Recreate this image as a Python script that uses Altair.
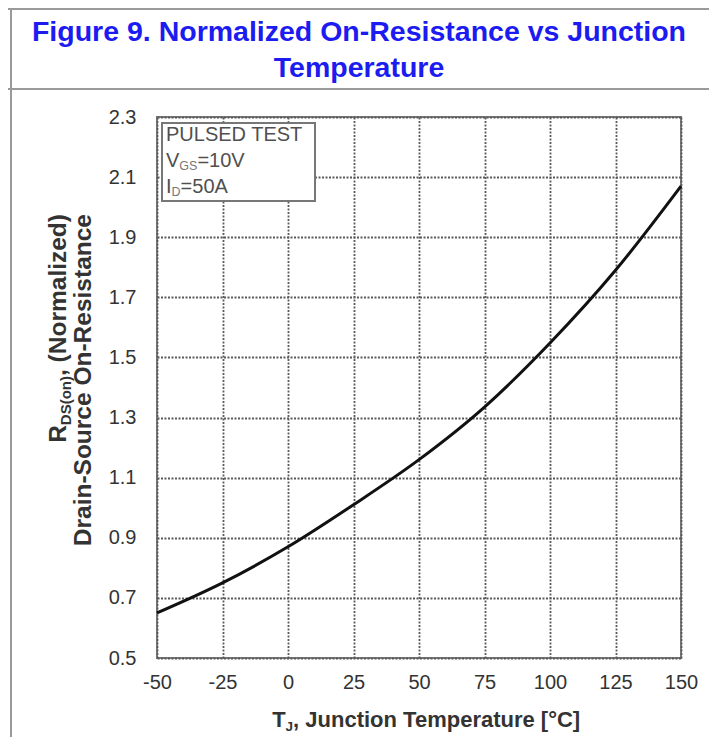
import altair as alt
import pandas as pd

# ---------------- data ----------------
temps = [-50, -25, 0, 25, 50, 75, 100, 125, 150]
rdson = [0.65, 0.75, 0.87, 1.01, 1.16, 1.335, 1.548, 1.79, 2.07]
x_ticks = [-50, -25, 0, 25, 50, 75, 100, 125, 150]
y_ticks = [0.5, 0.7, 0.9, 1.1, 1.3, 1.5, 1.7, 1.9, 2.1, 2.3]
title_lines = ["Figure 9. Normalized On-Resistance vs Junction", "Temperature"]
legend_line1 = "PULSED TEST"
legend_v = ["V", "GS", "=10V"]
legend_i = ["I", "D", "=50A"]
ytitle_1 = ["R", "DS(on)", ", (Normalized)"]
ytitle_2 = "Drain-Source On-Resistance"
xtitle = ["T", "J", ", Junction Temperature [°C]"]

# ---------------- layout ----------------
W, H = 524, 541
OX, OY = 157, 117          # screen position of the plot origin
FONT = "Liberation Sans"
TXT = "#333333"

# Arial / Liberation Sans advance widths (1/1000 em)
REG = {' ': 278, '=': 584, 'A': 667, 'C': 722, 'D': 722, 'E': 667, 'G': 778,
       'I': 278, 'L': 556, 'P': 667, 'S': 667, 'T': 611, 'U': 722, 'V': 667}
for d in "0123456789":
    REG[d] = 556
BOLD = {' ': 278, ',': 278, '(': 333, ')': 333, '-': 333, '[': 333, ']': 333,
        '°': 400, 'C': 722, 'D': 722, 'J': 556, 'N': 722, 'R': 722, 'S': 667,
        'T': 611, 'a': 556, 'c': 556, 'd': 611, 'e': 556, 'i': 278, 'l': 278,
        'm': 889, 'n': 611, 'o': 611, 'p': 611, 'r': 389, 's': 556, 't': 333,
        'u': 611, 'z': 500}


def tw(s, size, bold=False):
    tab = BOLD if bold else REG
    return sum(tab.get(c, 556) for c in s) * size / 1000.0


def sx(v):
    return v - OX


def sy(v):
    return v - OY


one = pd.DataFrame({"k": [0]})


def text(s, x, y, size, color=TXT, bold=False, align="left", angle=0,
         dx=0, dy=0, baseline="alphabetic"):
    kw = dict(text=s, fontSize=size, font=FONT, color=color, align=align,
              baseline=baseline, fontWeight="bold" if bold else "normal")
    if angle:
        kw["angle"] = angle
    if dx:
        kw["dx"] = dx
    if dy:
        kw["dy"] = dy
    return alt.Chart(one).mark_text(**kw).encode(x=alt.value(x), y=alt.value(y))


GRID = dict(grid=True, ticks=False, domain=False, labelFont=FONT,
            labelColor=TXT, labelFontSize=20, labelFlush=False,
            gridColor="#5a5a5a", gridDash=[2, 1.5], gridWidth=1.8)

# ---------------- curve with axes ----------------
df = pd.DataFrame({"T": temps, "R": rdson})
curve = alt.Chart(df).mark_line(color="#111111", strokeWidth=3,
                                interpolate="monotone").encode(
    x=alt.X("T:Q",
            scale=alt.Scale(domain=[-50, 150], nice=False, zero=False),
            axis=alt.Axis(values=x_ticks, title=None, labelPadding=14,
                          labelExpr="'' + datum.value", **GRID)),
    y=alt.Y("R:Q",
            scale=alt.Scale(domain=[0.5, 2.3], nice=False, zero=False),
            axis=alt.Axis(values=y_ticks, title=None, format=".1f",
                          labelPadding=21, **GRID)),
)

layers = []

# outer table frame
FR = "#9a9a9a"
layers.append(alt.Chart(one).mark_rule(color=FR, strokeWidth=2).encode(
    x=alt.value(sx(11)), y=alt.value(sy(9)), y2=alt.value(sy(745))))
layers.append(alt.Chart(one).mark_rule(color=FR, strokeWidth=2).encode(
    x=alt.value(sx(0)), x2=alt.value(sx(717)), y=alt.value(sy(9))))
layers.append(alt.Chart(one).mark_rule(color=FR, strokeWidth=2).encode(
    x=alt.value(sx(0)), x2=alt.value(sx(717)), y=alt.value(sy(89))))

# title
TC = "#1c1cf0"
layers.append(text(title_lines[0], sx(359), sy(41), 28.5, TC, True, "center"))
layers.append(text(title_lines[1], sx(359), sy(77), 28.5, TC, True, "center"))

layers.append(curve)

# legend box
layers.append(alt.Chart(one).mark_rect(fill="white", stroke="#777777",
                                       strokeWidth=2).encode(
    x=alt.value(sx(162)), x2=alt.value(sx(315)),
    y=alt.value(sy(123)), y2=alt.value(sy(201))))
LX = 166
LC = "#505050"
LS = 20
SS = 12.5
layers.append(text(legend_line1, sx(LX), sy(141), LS, LC))
w0 = tw(legend_v[0], LS)
w1 = tw(legend_v[1], SS)
layers.append(text(legend_v[0], sx(LX), sy(167), LS, LC))
layers.append(text(legend_v[1], sx(LX + w0), sy(170), SS, "#777777"))
layers.append(text(legend_v[2], sx(LX + w0 + w1), sy(167), LS, LC))
w0 = tw(legend_i[0], LS)
w1 = tw(legend_i[1], SS)
layers.append(text(legend_i[0], sx(LX), sy(193), LS, LC))
layers.append(text(legend_i[1], sx(LX + w0), sy(196), SS, "#777777"))
layers.append(text(legend_i[2], sx(LX + w0 + w1), sy(193), LS, LC))

# y-axis title (rotated, two lines, tops aligned)
YTOP = 214
YS = 24.5
a0 = tw(ytitle_1[0], YS, True)
a1 = tw(ytitle_1[1], 15, True)
a2 = tw(ytitle_1[2], YS, True)
ystart = YTOP + a0 + a1 + a2
bx1 = 66
layers.append(text(ytitle_1[0], sx(bx1), sy(ystart), YS, TXT, True, "left", 270))
layers.append(text(ytitle_1[1], sx(bx1), sy(ystart), 15, TXT, True, "left", 270,
                   dx=a0, dy=5))
layers.append(text(ytitle_1[2], sx(bx1), sy(ystart), YS, TXT, True, "left", 270,
                   dx=a0 + a1))
layers.append(text(ytitle_2, sx(91), sy(YTOP), YS, TXT, True, "right", 270))

# x-axis title
XS = 22
b0 = tw(xtitle[0], XS, True)
b1 = tw(xtitle[1], 13.5, True)
b2 = tw(xtitle[2], XS, True)
xstart = 427 - (b0 + b1 + b2) / 2
layers.append(text(xtitle[0], sx(xstart), sy(727), XS, TXT, True))
layers.append(text(xtitle[1], sx(xstart + b0), sy(731), 13.5, TXT, True))
layers.append(text(xtitle[2], sx(xstart + b0 + b1), sy(727), XS, TXT, True))

chart = alt.layer(*layers).properties(
    width=W, height=H,
    autosize=alt.AutoSizeParams(type="none"),
    padding={"left": OX - 8, "top": OY - 8, "right": 28, "bottom": 79},
    background="white",
).configure_view(stroke="#7a7a7a", strokeWidth=2)

chart.save("out.html", embed_options={"renderer": "svg", "actions": False})
